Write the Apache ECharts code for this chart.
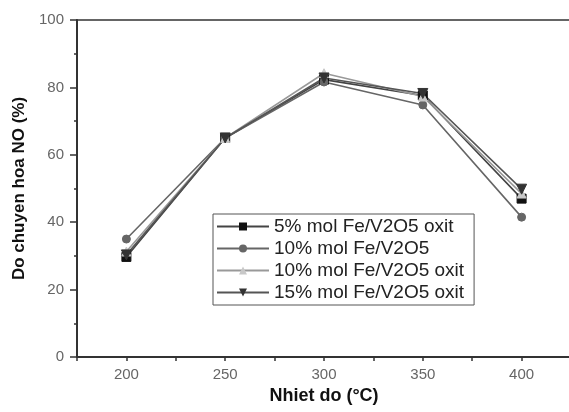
<!DOCTYPE html>
<html><head><meta charset="utf-8">
<script src="https://cdn.jsdelivr.net/npm/echarts@6/dist/echarts.min.js"></script>
<style>html,body{margin:0;padding:0;background:#fff}#c{width:569px;height:412px}</style>
</head><body><div id="c"></div>
<script>
const temps = [200, 250, 300, 350, 400];
const s5oxit = [29.7, 65, 82.3, 77.6, 47.0];
const s10 = [35.0, 65, 81.6, 74.8, 41.5];
const s10oxit = [31.3, 65, 84.2, 77.3, 48.5];
const s15oxit = [30.3, 65, 82.8, 78.2, 49.8];
const names = ['5% mol Fe/V2O5 oxit', '10% mol Fe/V2O5', '10% mol Fe/V2O5 oxit', '15% mol Fe/V2O5 oxit'];
const yTicks = [0, 20, 40, 60, 80, 100];
const xLabels = [200, 250, 300, 350, 400];

const chart = echarts.init(document.getElementById('c'), null, {renderer: 'canvas'});
const font = 'Liberation Sans, Arial, sans-serif';
function mk(name, vals, symbol, size, color, lineColor) {
  return {
    name, type: 'line', data: temps.map((t, i) => [t, vals[i]]),
    symbol, symbolSize: size,
    itemStyle: {color: color, borderColor: color},
    lineStyle: {color: lineColor, width: 1.6},
    emphasis: {disabled: true}
  };
}
chart.setOption({
  animation: false,
  backgroundColor: '#fff',
  grid: {left: 77, right: -2, top: 20, bottom: 55, show: true, borderColor: '#333', borderWidth: 1.5,
    outerBoundsMode: 'none', containLabel: false},
  legend: {
    orient: 'vertical', left: 213, top: 214, padding: [3, 10, 3, 3],
    borderColor: '#555', borderWidth: 1, backgroundColor: '#fff',
    itemWidth: 52, itemHeight: 10, itemGap: 3,
    textStyle: {fontFamily: font, fontSize: 19, color: '#222'},
    data: names
  },
  xAxis: {
    type: 'value', min: 175, max: 425, interval: 25,
    name: 'Nhiet do (°C)', nameLocation: 'middle', nameGap: 27,
    nameTextStyle: {fontFamily: font, fontSize: 18, fontWeight: 'bold', color: '#111'},
    axisLine: {lineStyle: {color: '#333', width: 2}},
    axisTick: {show: true, length: 4, inside: false, lineStyle: {color: '#333', width: 1.5}},
    axisLabel: {fontFamily: font, fontSize: 15, color: '#666', margin: 10,
      formatter: v => xLabels.includes(v) ? String(v) : ''},
    splitLine: {show: false}
  },
  yAxis: {
    type: 'value', min: 0, max: 100, interval: 20,
    name: 'Do chuyen hoa NO (%)', nameLocation: 'middle', nameGap: 48,
    nameTextStyle: {fontFamily: font, fontSize: 17, fontWeight: 'bold', color: '#111'},
    axisLine: {show: true, lineStyle: {color: '#333', width: 2}},
    axisTick: {show: true, length: 7, lineStyle: {color: '#333', width: 1.5}},
    minorTick: {show: true, splitNumber: 2, length: 3, lineStyle: {color: '#333', width: 1.5}},
    axisLabel: {fontFamily: font, fontSize: 15, color: '#666', margin: 13,
      formatter: v => yTicks.includes(v) ? String(v) : ''},
    splitLine: {show: false}
  },
  series: [
    mk(names[0], s5oxit, 'rect', 9, '#111', '#444'),
    mk(names[1], s10, 'circle', 8, '#666', '#666'),
    mk(names[2], s10oxit, 'triangle', 9, '#c8c8c8', '#999'),
    mk(names[3], s15oxit, 'path://M0,0 L10,0 L5,9 Z', 10, '#333', '#555')
  ]
});
</script></body></html>
